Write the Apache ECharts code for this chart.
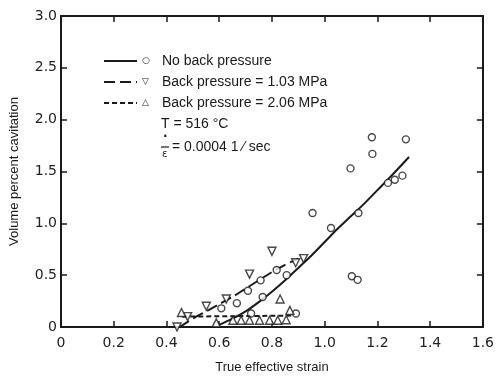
<!DOCTYPE html>
<html>
<head>
<meta charset="utf-8">
<script src="https://cdn.jsdelivr.net/npm/echarts@6/dist/echarts.min.js"></script>
<style>
  html, body { margin: 0; padding: 0; background: #fff; }
  #chart { width: 497px; height: 379px; }
</style>
</head>
<body>
<div id="chart"></div>
<script>
// tick labels
var xTickLabels = ["0", "0.2", "0.4", "0.6", "0.8", "1.0", "1.2", "1.4", "1.6"];
var yTickLabels = ["0", "0.5", "1.0", "1.5", "2.0", "2.5", "3.0"];

// measured points [strain, volume % cavitation]
var noBackPts = [
  [0.608, 0.18], [0.667, 0.23], [0.709, 0.35], [0.721, 0.13], [0.757, 0.45],
  [0.765, 0.29], [0.818, 0.55], [0.856, 0.50], [0.891, 0.13], [0.954, 1.10],
  [1.024, 0.955], [1.098, 1.53], [1.103, 0.49], [1.125, 0.455], [1.128, 1.10],
  [1.179, 1.83], [1.181, 1.67], [1.240, 1.39], [1.266, 1.42], [1.295, 1.46],
  [1.308, 1.81]
];
var bp103Pts = [
  [0.44, 0.0], [0.48, 0.10], [0.551, 0.20], [0.627, 0.27], [0.715, 0.51],
  [0.80, 0.73], [0.89, 0.62], [0.92, 0.66]
];
var bp206Pts = [
  [0.457, 0.14], [0.589, 0.04], [0.652, 0.065], [0.683, 0.065], [0.715, 0.065],
  [0.753, 0.065], [0.791, 0.065], [0.822, 0.065], [0.854, 0.07], [0.868, 0.16],
  [0.831, 0.27]
];

// fitted curves
var noBackFit = [
  [0.6, 0.02], [0.65, 0.08], [0.7, 0.15], [0.75, 0.24], [0.8, 0.34],
  [0.85, 0.45], [0.9, 0.57], [0.95, 0.69], [1.0, 0.82], [1.05, 0.95],
  [1.1, 1.07], [1.15, 1.19], [1.2, 1.32], [1.25, 1.45], [1.32, 1.64]
];
var bp103Fit = [
  [0.45, 0.0], [0.5, 0.08], [0.55, 0.15], [0.6, 0.22], [0.65, 0.29],
  [0.7, 0.37], [0.75, 0.45], [0.8, 0.53], [0.85, 0.6], [0.9, 0.66]
];
var bp206Fit = [[0.46, 0.1], [0.88, 0.11]];

var names = ["No back pressure", "Back pressure = 1.03 MPa", "Back pressure = 2.06 MPa"];
var glyphs = ["○", "▽", "△"];

var ink = "#1a1a1a";
var chart = echarts.init(document.getElementById("chart"));

function markerStyle() {
  return { color: "#fff", borderColor: ink, borderWidth: 1.4 };
}

var axisLineStyle = { onZero: false, show: true, lineStyle: { color: ink, width: 2 } };
var axisTickStyle = { show: true, inside: true, length: 6, lineStyle: { color: ink, width: 1.5 } };

var option = {
  animation: false,
  backgroundColor: "#fff",
  grid: { left: 61, right: 13, top: 16, bottom: 49 },
  xAxis: [
    {
      type: "value", min: 0, max: 1.6, interval: 0.2,
      name: "True effective strain", nameLocation: "middle", nameGap: 34,
      nameTextStyle: { fontFamily: "Liberation Sans", fontSize: 13, color: ink },
      axisLine: axisLineStyle,
      axisTick: axisTickStyle,
      axisLabel: {
        margin: 9, fontFamily: "DejaVu Sans", fontSize: 14, color: "#222",
        formatter: function (v) { return xTickLabels[Math.round(v / 0.2)]; }
      },
      splitLine: { show: false }
    },
    {
      type: "value", position: "top", min: 0, max: 1.6, interval: 0.2,
      axisLine: axisLineStyle,
      axisTick: axisTickStyle,
      axisLabel: { show: false }, splitLine: { show: false }
    }
  ],
  yAxis: [
    {
      type: "value", min: 0, max: 3, interval: 0.5,
      name: "Volume percent cavitation", nameLocation: "middle", nameGap: 40,
      nameTextStyle: { fontFamily: "Liberation Sans", fontSize: 13, color: ink },
      axisLine: axisLineStyle,
      axisTick: axisTickStyle,
      axisLabel: {
        margin: 4, fontFamily: "DejaVu Sans", fontSize: 14, color: "#222",
        formatter: function (v) { return yTickLabels[Math.round(v / 0.5)]; }
      },
      splitLine: { show: false }
    },
    {
      type: "value", position: "right", min: 0, max: 3, interval: 0.5,
      axisLine: axisLineStyle,
      axisTick: axisTickStyle,
      axisLabel: { show: false }, splitLine: { show: false }
    }
  ],
  legend: {
    left: 103, top: 54, orient: "vertical", padding: 0,
    itemWidth: 33, itemHeight: 14, itemGap: 7,
    data: names,
    itemStyle: { opacity: 0 },
    lineStyle: { width: 2 },
    formatter: function (name) {
      return "{m|" + glyphs[names.indexOf(name)] + "}" + name;
    },
    textStyle: {
      fontFamily: "Liberation Sans", fontSize: 14, color: ink,
      rich: { m: { fontFamily: "DejaVu Sans", fontSize: 9, width: 20, color: ink } }
    }
  },
  graphic: [
    { type: "text", left: 161, top: 117, style: { text: "T = 516 °C", font: "14px Liberation Sans", fill: ink } },
    { type: "text", left: 163, top: 131, style: { text: "·", font: "bold 12px DejaVu Sans", fill: ink } },
    { type: "line", shape: { x1: 161, y1: 147, x2: 169, y2: 147 }, style: { stroke: ink, lineWidth: 1.2 } },
    { type: "text", left: 162, top: 149, style: { text: "ε", font: "10px DejaVu Sans", fill: ink } },
    { type: "text", left: 172, top: 140, style: { text: "= 0.0004 1 ⁄ sec", font: "14px Liberation Sans", fill: ink } }
  ],
  series: [
    {
      name: names[0], type: "line", data: noBackFit, smooth: 0.3, symbol: "none", color: ink,
      lineStyle: { color: ink, width: 2, type: "solid" }, z: 3
    },
    {
      name: names[1], type: "line", data: bp103Fit, smooth: 0.3, symbol: "none", color: ink,
      lineStyle: { color: ink, width: 2, type: [11, 5] }, z: 3
    },
    {
      name: names[2], type: "line", data: bp206Fit, symbol: "none", color: ink,
      lineStyle: { color: ink, width: 2, type: [5, 3] }, z: 3
    },
    {
      type: "scatter", data: noBackPts, symbol: "circle", symbolSize: 7,
      itemStyle: markerStyle(), z: 4, clip: false
    },
    {
      type: "scatter", data: bp103Pts, symbol: "triangle", symbolRotate: 180, symbolSize: 8,
      itemStyle: markerStyle(), z: 4, clip: false
    },
    {
      type: "scatter", data: bp206Pts, symbol: "triangle", symbolSize: 8,
      itemStyle: markerStyle(), z: 4, clip: false
    }
  ]
};

chart.setOption(option);
</script>
</body>
</html>
